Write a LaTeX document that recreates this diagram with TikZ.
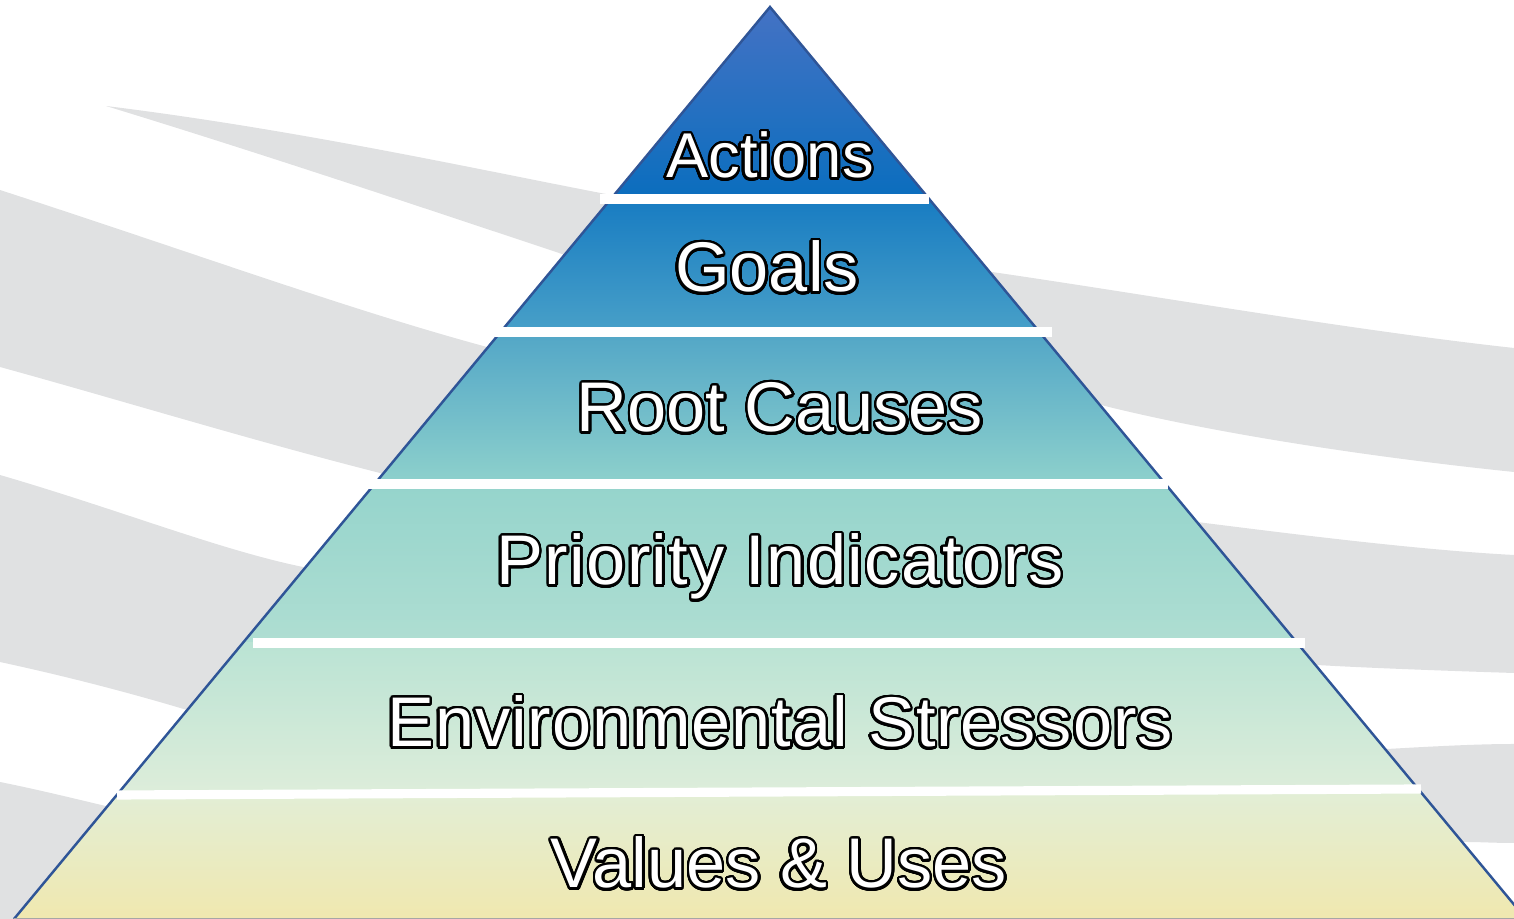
\documentclass[tikz,border=0pt]{standalone}
\usepackage{fontspec}
\setmainfont{Liberation Sans}
\usepackage{contour}
\contourlength{0.7pt}
\contournumber{32}

\definecolor{swooshgrey}{RGB}{224,225,226}
\definecolor{pyredge}{RGB}{47,85,151}
\definecolor{actTop}{RGB}{68,114,196}
\definecolor{actBot}{RGB}{10,110,190}
\definecolor{goalTop}{RGB}{24,124,194}
\definecolor{goalBot}{RGB}{72,160,200}
\definecolor{causeTop}{RGB}{82,166,199}
\definecolor{causeBot}{RGB}{142,209,204}
\definecolor{indTop}{RGB}{149,212,204}
\definecolor{indBot}{RGB}{175,222,210}
\definecolor{stressTop}{RGB}{186,227,212}
\definecolor{stressBot}{RGB}{221,237,218}
\definecolor{valTop}{RGB}{226,238,214}
\definecolor{valBot}{RGB}{240,232,175}

\begin{document}
\begin{tikzpicture}[x = 0.01cm, y = -0.01cm,
    backband/.style = {fill = swooshgrey},
    divider/.style = {white, line width = 2.6pt},
    every node/.style = {text = white, anchor = base, inner sep = 0pt,
        font = \fontsize{20}{24}\selectfont}]
    \clip (0,0) rectangle (1514,919);
    \fill[backband] (106,106) .. controls (300,130) and (480,170) .. (611,195)
        -- (770,230) -- (992,272) .. controls (1150,295) and (1350,330) .. (1514,348)
        -- (1514,472) .. controls (1350,455) and (1200,430) .. (1101,405)
        -- (770,330) -- (559,253) .. controls (400,200) and (250,150) .. (106,106) -- cycle;
    \fill[backband] (0,190) .. controls (200,255) and (350,310) .. (487,347)
        -- (770,450) -- (1197,522) .. controls (1300,535) and (1420,550) .. (1514,555)
        -- (1514,673) .. controls (1420,670) and (1350,667) .. (1317,665)
        -- (770,600) -- (380,473) .. controls (250,440) and (120,400) .. (0,367) -- cycle;
    \fill[backband] (0,475) .. controls (120,510) and (220,550) .. (303,567)
        -- (770,700) -- (1387,749) .. controls (1440,746) and (1480,744) .. (1514,744)
        -- (1514,843) .. controls (1495,843) and (1480,842) .. (1467,842)
        -- (770,820) -- (187,710) .. controls (120,690) and (60,675) .. (0,662) -- cycle;
    \fill[backband] (0,782) .. controls (40,790) and (80,800) .. (110,807)
        -- (770,900) -- (770,919) -- (0,919) -- cycle;
    \begin{scope}
        \clip (770,7) -- (14,919) -- (1526,919) -- cycle;
        \foreach \ya/\yb/\ca/\cb in {7/199/actTop/actBot, 199/332/goalTop/goalBot,
                332/484/causeTop/causeBot, 484/643/indTop/indBot,
                643/792/stressTop/stressBot, 792/919/valTop/valBot}
            \shade[top color = \ca, bottom color = \cb] (0,\ya) rectangle (1514,\yb);
    \end{scope}
    \draw[pyredge, line width = 0.7pt] (14,919) -- (770,7) -- (1526,919);
    \draw[gray!70, line width = 0.5pt] (14,918.5) -- (1514,918.5);
    \foreach \xa/\ya/\xb/\yb in {600/199/929/199, 495/332/1052/332, 368/484/1168/484,
            253/643/1305/643, 117/795/1421/789}
        \draw[divider] (\xa,\ya) -- (\xb,\yb);
    \node[font = \fontsize{18}{22}\selectfont] (actions) at (770,178) {\contour{black}{Actions}};
    \node (goals) at (767,292) {\contour{black}{Goals}};
    \node (causes) at (780,432) {\contour{black}{Root Causes}};
    \node (indicators) at (780,585) {\addfontfeature{LetterSpace = 2.0}\contour{black}{Priority Indicators}};
    \node (stressors) at (780,747) {\addfontfeature{LetterSpace = 1.3}\contour{black}{Environmental Stressors}};
    \node (values) at (779,888) {\contour{black}{Values \& Uses}};
\end{tikzpicture}
\end{document}
